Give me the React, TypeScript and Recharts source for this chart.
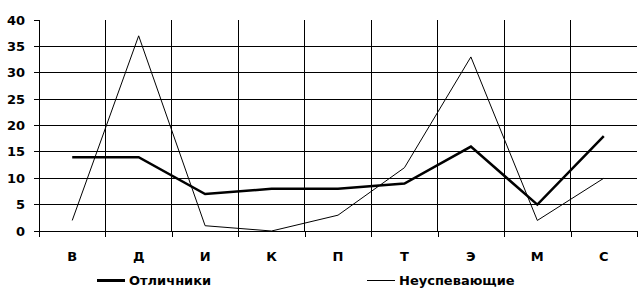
import { CartesianGrid, Legend, Line, LineChart, XAxis, YAxis } from "recharts";

const categories = ["В", "Д", "И", "К", "П", "Т", "Э", "М", "С"];
const excellent = [14, 14, 7, 8, 8, 9, 16, 5, 18];
const failing = [2, 37, 1, 0, 3, 12, 33, 2, 10];
const yTicks = [0, 5, 10, 15, 20, 25, 30, 35, 40];

const series = [
  { key: "excellent", name: "Отличники", width: 2.5 },
  { key: "failing", name: "Неуспевающие", width: 1 },
];

const data = categories.map((name, i) => ({
  name,
  excellent: excellent[i],
  failing: failing[i],
}));

const font = "'DejaVu Sans', sans-serif";
const tickStyle = { fontSize: 13, fontWeight: 700, fill: "#000", fontFamily: font };

// category label plus the boundary tick marks between the bands
function CategoryTick(props: any) {
  const { x, y, payload, index } = props;
  const half = payload.offset ?? 0;
  const left = Math.round(x - half) + 0.5;
  const right = Math.round(x + half) + 0.5;
  return (
    <g>
      <line x1={left} x2={left} y1={y} y2={y + 6} stroke="#000" />
      {index === categories.length - 1 && <line x1={right} x2={right} y1={y} y2={y + 6} stroke="#000" />}
      <text x={x} y={y + 21} dy="0.71em" textAnchor="middle" {...tickStyle}>
        {payload.value}
      </text>
    </g>
  );
}

function LegendRow() {
  return (
    <div style={{ display: "flex", height: 20, paddingLeft: 97, fontFamily: font }}>
      {series.map((s) => (
        <div key={s.key} style={{ width: 301, display: "flex", alignItems: "center" }}>
          <span style={{ width: 28, height: 0, borderTop: `${Math.round(s.width)}px solid #000`, marginRight: 4 }} />
          <span style={{ fontSize: 13, fontWeight: 700, color: "#000" }}>{s.name}</span>
        </div>
      ))}
    </div>
  );
}

export default function App() {
  return (
    <div style={{ position: "absolute", left: 0, top: 0, width: 642, height: 297, background: "#fff" }}>
      <LineChart width={642} height={297} data={data} margin={{ top: 20, right: 5, left: 0, bottom: 7 }}>
        <CartesianGrid
          stroke="#000"
          shapeRendering="crispEdges"
          verticalCoordinatesGenerator={({ offset }: any) =>
            categories.slice(1).map((_, i) => offset.left + ((i + 1) * offset.width) / categories.length)
          }
          horizontalCoordinatesGenerator={({ offset }: any) =>
            yTicks.slice(0, -1).map((v) => offset.top + offset.height * (1 - v / 40))
          }
        />
        <XAxis
          dataKey="name"
          scale="band"
          axisLine={{ stroke: "#000", shapeRendering: "crispEdges" }}
          tickLine={false}
          tickSize={0}
          tickMargin={0}
          height={39}
          tick={<CategoryTick />}
          interval={0}
        />
        <YAxis
          domain={[0, 40]}
          ticks={yTicks}
          width={39}
          tickSize={5}
          tickMargin={9}
          tick={tickStyle}
          axisLine={{ stroke: "#000", shapeRendering: "crispEdges" }}
          tickLine={{ stroke: "#000", shapeRendering: "crispEdges" }}
        />
        <Legend verticalAlign="bottom" height={20} content={() => <LegendRow />} />
        {series.map((s) => (
          <Line
            key={s.key}
            dataKey={s.key}
            name={s.name}
            type="linear"
            stroke="#000"
            strokeWidth={s.width}
            dot={false}
            activeDot={false}
            isAnimationActive={false}
          />
        ))}
      </LineChart>
    </div>
  );
}
